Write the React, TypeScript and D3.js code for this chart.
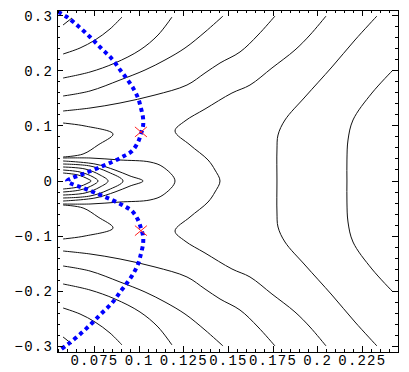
import * as d3 from 'd3';

type Pt = [number, number];

// axis ticks
const xTickValues = [0.075, 0.1, 0.125, 0.15, 0.175, 0.2, 0.225];
const xTickLabels = ['0.075', '0.1', '0.125', '0.15', '0.175', '0.2', '0.225'];
const yTickValues = [-0.3, -0.2, -0.1, 0, 0.1, 0.2, 0.3];
const yTickLabels = ['\u22120.3', '\u22120.2', '\u22120.1', '0', '0.1', '0.2', '0.3'];

// contour lines, [x, y]
const lineF1: Pt[] = [[0.0574, 0.2828], [0.0624, 0.2955]];
const lineF2: Pt[] = [[0.0574, -0.2828], [0.0624, -0.2955]];

const lineG1: Pt[] = [[0.0574, 0.2302], [0.0669, 0.2411], [0.0753, 0.2556], [0.0837, 0.2756], [0.0904, 0.2973]];
const lineG2: Pt[] = [[0.0574, -0.2302], [0.0669, -0.2411], [0.0753, -0.2556], [0.0837, -0.2756], [0.0904, -0.2973]];

const lineH1: Pt[] = [[0.0574, 0.1867], [0.0725, 0.1976], [0.0865, 0.2139], [0.1005, 0.2375], [0.1106, 0.2647], [0.1184, 0.2973]];
const lineH2: Pt[] = [[0.0574, -0.1867], [0.0725, -0.1976], [0.0865, -0.2139], [0.1005, -0.2375], [0.1106, -0.2647], [0.1184, -0.2973]];

const lineA1: Pt[] = [[0.0574, 0.1541], [0.0725, 0.1632], [0.0893, 0.1831], [0.1033, 0.2012], [0.1145, 0.2194], [0.1257, 0.2411], [0.1369, 0.2701], [0.147, 0.2991]];
const lineA2: Pt[] = [[0.0574, -0.1541], [0.0725, -0.1632], [0.0893, -0.1831], [0.1033, -0.2012], [0.1145, -0.2194], [0.1257, -0.2411], [0.1369, -0.2701], [0.147, -0.2991]];

const lineB1: Pt[] = [[0.0574, 0.1269], [0.0725, 0.1323], [0.0893, 0.1414], [0.1089, 0.1559], [0.1268, 0.174], [0.1369, 0.1958], [0.1453, 0.2139], [0.1565, 0.2339], [0.1666, 0.2647], [0.1761, 0.2991]];
const lineB2: Pt[] = [[0.0574, -0.1269], [0.0725, -0.1323], [0.0893, -0.1414], [0.1089, -0.1559], [0.1268, -0.174], [0.1369, -0.1958], [0.1453, -0.2139], [0.1565, -0.2339], [0.1666, -0.2647], [0.1761, -0.2991]];

const lineC: Pt[] = [
  [0.2047, 0.2991], [0.1957, 0.2647], [0.1873, 0.2375], [0.1744, 0.2049], [0.1621, 0.174], [0.152, 0.1595],
  [0.1369, 0.1305], [0.1257, 0.1088], [0.1201, 0.0906], [0.1285, 0.0653], [0.1386, 0.0381], [0.1425, 0.0199],
  [0.1453, 0], [0.1425, -0.0199], [0.1386, -0.0381], [0.1285, -0.0653], [0.1201, -0.0906], [0.1257, -0.1088],
  [0.1369, -0.1305], [0.152, -0.1595], [0.1621, -0.174], [0.1744, -0.2049], [0.1873, -0.2375], [0.1957, -0.2647],
  [0.2047, -0.2991],
];

const lineD: Pt[] = [
  [0.2332, 0.2991], [0.2209, 0.2556], [0.208, 0.2067], [0.1929, 0.1523], [0.1817, 0.1106], [0.1778, 0.0834],
  [0.1772, 0.0562], [0.1772, 0], [0.1772, -0.0562], [0.1778, -0.0834], [0.1817, -0.1106], [0.1929, -0.1523],
  [0.208, -0.2067], [0.2209, -0.2556], [0.2332, -0.2991],
];

const lineE: Pt[] = [
  [0.2422, 0.2012], [0.2304, 0.1595], [0.2198, 0.1106], [0.217, 0.0743], [0.2164, 0.0381], [0.2164, 0],
  [0.2164, -0.0381], [0.217, -0.0743], [0.2198, -0.1106], [0.2304, -0.1595], [0.2422, -0.2012],
];

const lineK1: Pt[] = [[0.0574, 0.1051], [0.0697, 0.0997], [0.0854, 0.0852], [0.077, 0.0653], [0.0686, 0.0489], [0.0574, 0.0435]];
const lineK2: Pt[] = [[0.0574, -0.1051], [0.0697, -0.0997], [0.0854, -0.0852], [0.077, -0.0653], [0.0686, -0.0489], [0.0574, -0.0435]];

const lineO1: Pt[] = [
  [0.0574, 0.0417], [0.0725, 0.0417], [0.0893, 0.0381], [0.1061, 0.0344], [0.1134, 0.0254], [0.1201, 0],
  [0.1134, -0.0254], [0.1061, -0.0344], [0.0893, -0.0381], [0.0725, -0.0417], [0.0574, -0.0417],
];
const lineO2: Pt[] = [
  [0.0574, 0.0363], [0.0753, 0.0308], [0.0865, 0.0199], [0.0949, 0.0091], [0.1022, 0],
  [0.0949, -0.0091], [0.0865, -0.0199], [0.0753, -0.0308], [0.0574, -0.0363],
];
const lineO3: Pt[] = [
  [0.0574, 0.0308], [0.0725, 0.0272], [0.0826, 0.0163], [0.091, 0],
  [0.0826, -0.0163], [0.0725, -0.0272], [0.0574, -0.0308],
];
const lineO4: Pt[] = [
  [0.0574, 0.0254], [0.0697, 0.0218], [0.0781, 0.0109], [0.0826, 0],
  [0.0781, -0.0109], [0.0697, -0.0218], [0.0574, -0.0254],
];
const lineO5: Pt[] = [
  [0.0574, 0.0199], [0.0669, 0.0163], [0.0742, 0.0073], [0.077, 0],
  [0.0742, -0.0073], [0.0669, -0.0163], [0.0574, -0.0199],
];
const lineO6: Pt[] = [
  [0.0574, 0.0145], [0.0658, 0.0109], [0.0714, 0.0036], [0.0731, 0],
  [0.0714, -0.0036], [0.0658, -0.0109], [0.0574, -0.0145],
];

const contourLines = [
  lineF1, lineF2, lineG1, lineG2, lineH1, lineH2, lineA1, lineA2, lineB1, lineB2,
  lineC, lineD, lineE, lineK1, lineK2, lineO1, lineO2, lineO3, lineO4, lineO5, lineO6,
];

// blue dotted curve
const curvePts: Pt[] = [
  [0.0546, 0.3064], [0.0596, 0.2973], [0.0658, 0.281], [0.0725, 0.2611], [0.0786, 0.2411], [0.0848, 0.2212],
  [0.0898, 0.1994], [0.0932, 0.1849], [0.0966, 0.1686], [0.0994, 0.1505], [0.101, 0.1323], [0.1022, 0.1142],
  [0.1022, 0.0997], [0.101, 0.0852], [0.0994, 0.0707], [0.096, 0.0544], [0.0915, 0.0453], [0.0848, 0.0344],
  [0.077, 0.0236], [0.0686, 0.0127], [0.0624, 0.0054], [0.0596, 0],
  [0.0624, -0.0054], [0.0686, -0.0127], [0.077, -0.0236], [0.0848, -0.0344], [0.0915, -0.0453], [0.096, -0.0544],
  [0.0994, -0.0707], [0.101, -0.0852], [0.1022, -0.0997], [0.1022, -0.1142], [0.101, -0.1323], [0.0994, -0.1505],
  [0.0966, -0.1686], [0.0932, -0.1849], [0.0898, -0.1994], [0.0848, -0.2212], [0.0786, -0.2411], [0.0725, -0.2611],
  [0.0658, -0.281], [0.0596, -0.2973], [0.0556, -0.3064],
];

// red crosses
const markX = [0.101, 0.101];
const markY = [0.089, -0.09];

const left = 57, right = 398, top = 10, bottom = 352;

export default function App() {
  const x = d3.scaleLinear().domain([0.054, 0.245]).range([left, right]);
  const y = d3.scaleLinear().domain([-0.31, 0.31]).range([bottom, top]);
  const line = d3.line<Pt>().x(d => x(d[0])).y(d => y(d[1])).curve(d3.curveCatmullRom.alpha(0.5));

  const xMinor = d3.range(0.055, 0.2451, 0.005);
  const yMinor = d3.range(-0.3, 0.3001, 0.02);
  const font = "'Liberation Mono', 'DejaVu Sans Mono', monospace";

  return (
    <svg width={409} height={372} style={{ position: 'absolute', left: 0, top: 0, background: '#fff' }}>
      <rect x={0} y={0} width={409} height={372} fill="#fff" />
      {contourLines.map((pts, i) => (
        <path key={i} d={line(pts) ?? ''} fill="none" stroke="#111" strokeWidth={1} />
      ))}
      <path d={line(curvePts) ?? ''} fill="none" stroke="#0000ff" strokeWidth={4} strokeDasharray="4 3.6" />
      {markX.map((mx, i) => (
        <path
          key={i}
          d={`M${x(mx) - 6},${y(markY[i]) - 5}L${x(mx) + 6},${y(markY[i]) + 5}M${x(mx) - 6},${y(markY[i]) + 5}L${x(mx) + 6},${y(markY[i]) - 5}`}
          stroke="#ff2020"
          strokeWidth={1}
          fill="none"
        />
      ))}
      <g stroke="#000" strokeWidth={1} shapeRendering="crispEdges">
        <rect x={left} y={top} width={right - left} height={bottom - top} fill="none" />
        {xMinor.map((v, i) => (
          <g key={'xm' + i}>
            <line x1={x(v)} x2={x(v)} y1={bottom} y2={bottom - 3} />
            <line x1={x(v)} x2={x(v)} y1={top} y2={top + 3} />
          </g>
        ))}
        {xTickValues.map((v, i) => (
          <g key={'xt' + i}>
            <line x1={x(v)} x2={x(v)} y1={bottom} y2={bottom - 6} />
            <line x1={x(v)} x2={x(v)} y1={top} y2={top + 6} />
          </g>
        ))}
        {yMinor.map((v, i) => (
          <g key={'ym' + i}>
            <line x1={left} x2={left + 3} y1={y(v)} y2={y(v)} />
            <line x1={right} x2={right - 3} y1={y(v)} y2={y(v)} />
          </g>
        ))}
        {yTickValues.map((v, i) => (
          <g key={'yt' + i}>
            <line x1={left} x2={left + 6} y1={y(v)} y2={y(v)} />
            <line x1={right} x2={right - 6} y1={y(v)} y2={y(v)} />
          </g>
        ))}
      </g>
      <g fontFamily={font} fontSize={14} fill="#000">
        {xTickValues.map((v, i) => (
          <text key={'xl' + i} x={x(v)} y={bottom + 13} textAnchor="middle" letterSpacing={1.2}>
            {xTickLabels[i]}
          </text>
        ))}
        {yTickValues.map((v, i) => (
          <text key={'yl' + i} x={left - 4} y={y(v) + 5} textAnchor="end" letterSpacing={1.2}>
            {yTickLabels[i]}
          </text>
        ))}
      </g>
    </svg>
  );
}
